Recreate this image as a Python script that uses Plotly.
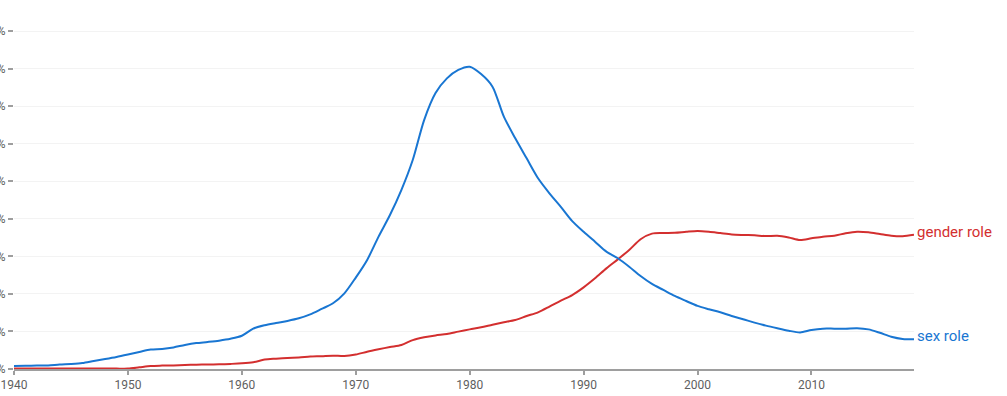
import plotly.graph_objects as go

years = list(range(1940, 2020))

# values in units of 1e-5 percent
sex_role = [0.16, 0.17, 0.18, 0.19, 0.24, 0.27, 0.32, 0.43, 0.53, 0.64,
            0.77, 0.91, 1.04, 1.07, 1.15, 1.28, 1.38, 1.44, 1.51, 1.61,
            1.77, 2.15, 2.33, 2.45, 2.56, 2.70, 2.91, 3.20, 3.50, 4.03,
            4.87, 5.81, 7.05, 8.20, 9.53, 11.13, 13.26, 14.70, 15.48, 15.93,
            16.10, 15.71, 15.04, 13.44, 12.29, 11.22, 10.16, 9.36, 8.64, 7.88,
            7.31, 6.78, 6.25, 5.90, 5.45, 4.95, 4.53, 4.21, 3.89, 3.62,
            3.36, 3.18, 3.02, 2.82, 2.65, 2.47, 2.31, 2.17, 2.04, 1.95,
            2.08, 2.15, 2.15, 2.15, 2.17, 2.11, 1.93, 1.72, 1.60, 1.58]

gender_role = [0.02, 0.02, 0.02, 0.02, 0.02, 0.02, 0.02, 0.02, 0.02, 0.02,
               0.02, 0.09, 0.16, 0.18, 0.19, 0.21, 0.23, 0.24, 0.25, 0.27,
               0.30, 0.36, 0.50, 0.55, 0.59, 0.61, 0.66, 0.68, 0.71, 0.69,
               0.77, 0.92, 1.05, 1.17, 1.28, 1.54, 1.69, 1.79, 1.86, 1.99,
               2.11, 2.22, 2.36, 2.49, 2.61, 2.82, 3.02, 3.32, 3.64, 3.94,
               4.35, 4.83, 5.36, 5.84, 6.34, 6.91, 7.21, 7.24, 7.26, 7.31,
               7.35, 7.31, 7.24, 7.17, 7.14, 7.12, 7.08, 7.10, 7.01, 6.87,
               6.96, 7.05, 7.10, 7.23, 7.31, 7.28, 7.19, 7.10, 7.07, 7.15]

UNIT = 1e-5
series_names = ["gender role", "sex role"]
series_colors = ["#d32f2f", "#1976d2"]
series_values = [gender_role, sex_role]

fig = go.Figure()
for name, color, vals in zip(series_names, series_colors, series_values):
    yv = [v * UNIT for v in vals]
    fig.add_trace(go.Scatter(
        x=years, y=yv, mode="lines", name=name,
        line=dict(color=color, width=2, shape="spline", smoothing=0.8),
        hoverinfo="skip"))
    fig.add_annotation(x=years[-1], y=yv[-1], xref="x", yref="y",
                       text=name, showarrow=False, xanchor="left",
                       yanchor="middle", xshift=1, yshift=3,
                       font=dict(family="Roboto", size=15, color=color))

fig.update_layout(
    width=1007, height=396,
    margin=dict(l=14, r=93, t=20, b=27, autoexpand=False),
    paper_bgcolor="white", plot_bgcolor="white",
    showlegend=False,
    font=dict(family="Roboto", size=12, color="#5f5f5f"),
    xaxis=dict(range=[1940, 2019], dtick=10, tick0=1940,
               showgrid=False, zeroline=False,
               showline=True, linecolor="#9e9e9e", linewidth=1.5,
               ticks="outside", ticklen=4, tickcolor="#9e9e9e", tickwidth=1.5,
               tickfont=dict(family="Roboto", size=12, color="#5f5f5f"),
               automargin=False, fixedrange=True),
    yaxis=dict(range=[0, 18.59 * UNIT], dtick=2 * UNIT, tick0=0,
               tickformat=".5f", ticksuffix="%",
               showgrid=True, gridcolor="#f3f3f3", gridwidth=1,
               zeroline=False, showline=False,
               ticks="outside", ticklen=5, tickcolor="#9e9e9e", tickwidth=1.5,
               tickfont=dict(family="Roboto", size=12, color="#5f5f5f"),
               automargin=False, fixedrange=True),
)

fig.write_html("out.html", config={"displayModeBar": False},
               post_script="document.body.style.margin='0';document.body.style.padding='0';document.body.style.overflow='hidden';")
